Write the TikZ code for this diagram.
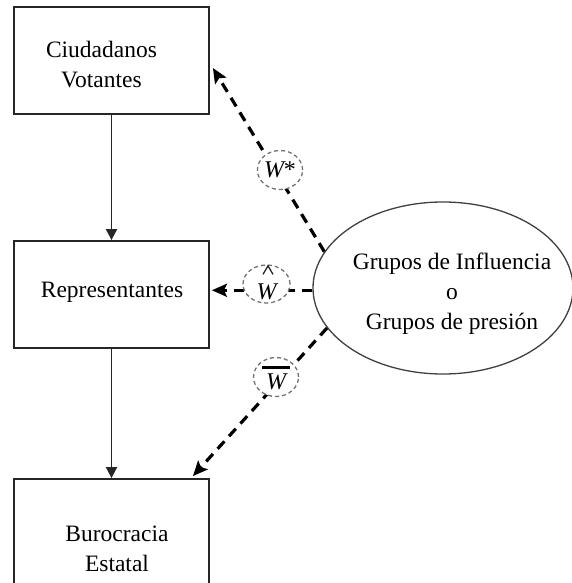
\documentclass[tikz,border=0pt]{standalone}
\usepackage{fontspec}
\setmainfont{Liberation Serif}
\usetikzlibrary{arrows.meta,shapes.geometric}
\begin{document}
\begin{tikzpicture}[x=1pt,y=-1pt,
  box/.style={draw=black!85,line width=1.8pt,minimum width=195pt,inner sep=0pt},
  txt/.style={font=\fontsize{23.5}{30}\selectfont,align=center,inner sep=0pt},
  wlab/.style={ellipse,draw=black!55,dash pattern=on 4pt off 3pt,line width=1.3pt,fill=white,minimum width=45pt,minimum height=39pt,inner sep=0pt,font=\fontsize{24}{24}\selectfont\itshape},
  dasharrow/.style={line width=3.2pt,dash pattern=on 10pt off 7pt,-{Stealth[length=15pt,width=13pt,inset=3pt]}},
  solidarrow/.style={line width=1.8pt,-{Triangle[length=11pt,width=11pt]}}]
\useasboundingbox (0,0) rectangle (572,583);
\clip (0,0) rectangle (572,583);
% boxes
\node[box,minimum height=107pt] (b1) at (111.5,60.5) {};
\node[box,minimum height=107pt] (b2) at (111.5,294.5) {};
\node[box,minimum height=140pt] (b3) at (111.5,549) {};
\node[txt] (t1txt) at (101.5,65) {Ciudadanos\\Votantes};
\node[txt] (t2txt) at (112,292.5) {Representantes};
\node[txt] (t3txt) at (117,549) {Burocracia\\Estatal};
% ellipse
\node[ellipse,draw=black!75,line width=1.3pt,minimum width=260pt,minimum height=172pt,inner sep=0pt] (gi) at (443,288) {};
\node[txt] (gitxt) at (452,293.5) {Grupos de Influencia\\o\\Grupos de presión};
% solid arrows
\draw[solidarrow,draw=black!85] (b1.south) -- (b2.north);
\draw[solidarrow,draw=black!85] (b2.south) -- (b3.north);
% dashed arrows
\coordinate (e1) at ([xshift=3pt,yshift=-7.5pt]b1.east);
\coordinate (e2) at ([xshift=2pt]b2.east |- gi.181);
\coordinate (e3) at ([xshift=-17pt,yshift=2pt]b3.north east);
\draw[dasharrow] (gi.163) -- (e1);
\draw[dasharrow] (gi.181) -- (e2);
\draw[dasharrow] (gi.199) -- (e3);
% labels
\node[wlab] (w1) at (280,170) {W\upshape*};
\node[wlab,minimum width=47pt,minimum height=38pt] (w2) at (266.5,284) {\raisebox{-7pt}[16pt][0pt]{W}};
\draw[line width=1.3pt,black!85] ([xshift=-3.5pt,yshift=-10pt]w2.north) -- ([xshift=1.5pt,yshift=-1.5pt]w2.north) -- ([xshift=6.5pt,yshift=-10pt]w2.north);
\node[wlab] (w3) at (276,377) {\raisebox{-4pt}[16pt][0pt]{W}};
\draw[line width=3pt] ([xshift=-14pt,yshift=9.5pt]w3.center) -- ([xshift=14pt,yshift=9.5pt]w3.center);
\end{tikzpicture}
\end{document}
